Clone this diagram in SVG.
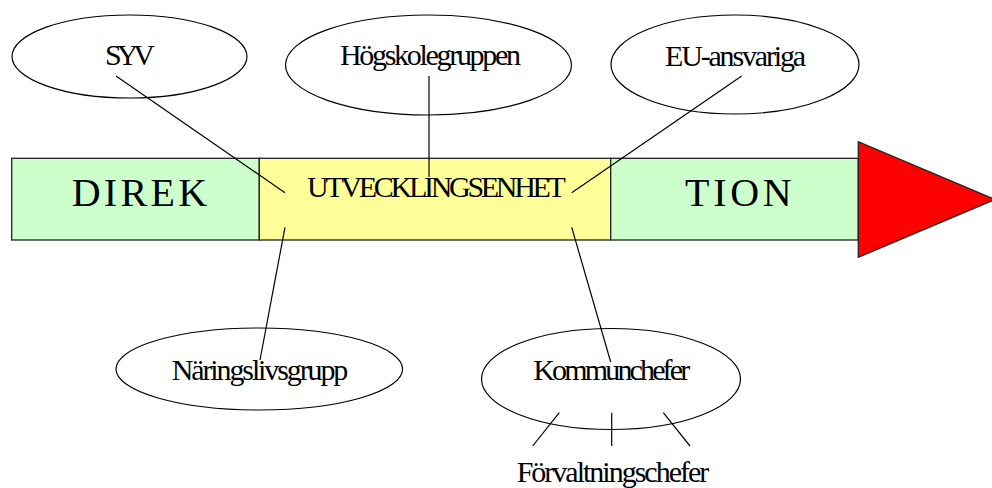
<svg xmlns="http://www.w3.org/2000/svg" width="992" height="488" viewBox="0 0 992 488">
<style>
.bar{stroke:#222;stroke-width:1.3}
.oval{fill:#fff;stroke:#000;stroke-width:1.2}
.lbl{font-family:"Liberation Serif","Times New Roman",serif;font-size:30px;fill:#000}
.big{font-family:"Liberation Serif","Times New Roman",serif;font-size:40px;fill:#000}
.conn line{stroke:#000;stroke-width:1.2}
</style>
<rect x="0" y="0" width="992" height="488" fill="#fff"/>
<g id="bar">
<rect class="bar" x="11.7" y="158.3" width="247.6" height="81.7" fill="#CCFFCC"/>
<rect class="bar" x="259.3" y="158.3" width="351.4" height="81.7" fill="#FFFF99"/>
<rect class="bar" x="610.7" y="158.3" width="247.6" height="81.7" fill="#CCFFCC"/>
<polygon class="bar" points="858.3,141.7 858.3,257.3 995,199.5" fill="#FF0000"/>
<text class="big" x="71.7" y="205.5" letter-spacing="3.3">DIREK</text>
<text class="lbl" x="307" y="197" letter-spacing="-3.29">UTVECKLINGSENHET</text>
<text class="big" x="685" y="205.5" letter-spacing="3.7">TION</text>
</g>
<g id="syv">
<ellipse class="oval" cx="129.5" cy="56.5" rx="117.5" ry="41.5"/>
<text class="lbl" x="105" y="65" letter-spacing="-5">SYV</text>
</g>
<g id="hogskolegruppen">
<ellipse class="oval" cx="428.5" cy="65" rx="143" ry="50"/>
<text class="lbl" x="340" y="65" letter-spacing="-2.31">Högskolegruppen</text>
</g>
<g id="eu-ansvariga">
<ellipse class="oval" cx="735" cy="64.5" rx="124" ry="49.5"/>
<text class="lbl" x="665" y="66" letter-spacing="-2.17">EU-ansvariga</text>
</g>
<g id="naringslivsgrupp">
<ellipse class="oval" cx="259.3" cy="369" rx="143.3" ry="41"/>
<text class="lbl" x="171.7" y="380" letter-spacing="-2.11">Näringslivsgrupp</text>
</g>
<g id="kommunchefer">
<ellipse class="oval" cx="611" cy="379" rx="129.5" ry="50.5"/>
<text class="lbl" x="533.3" y="380" letter-spacing="-2.85">Kommunchefer</text>
</g>
<g id="forvaltningschefer">
<text class="lbl" x="516.7" y="482" letter-spacing="-2">Förvaltningschefer</text>
</g>
<g id="connectors" class="conn">
<line x1="116" y1="76" x2="285" y2="192.7"/>
<line x1="429" y1="76" x2="429" y2="177"/>
<line x1="741.7" y1="76" x2="571.7" y2="192.7"/>
<line x1="285" y1="227.3" x2="260" y2="360"/>
<line x1="571.7" y1="227.3" x2="610.7" y2="362"/>
<line x1="559.3" y1="412.7" x2="532.7" y2="446"/>
<line x1="611.7" y1="412.7" x2="611.7" y2="446"/>
<line x1="663.3" y1="412.7" x2="690" y2="446"/>
</g>
</svg>
